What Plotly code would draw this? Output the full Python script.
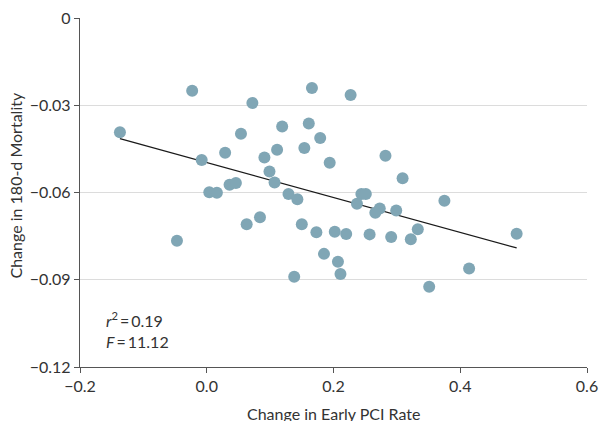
import numpy as np
import plotly.graph_objects as go

# Change in Early PCI Rate (x) and Change in 180-d Mortality (y)
pci_change = [-0.137, -0.023, 0.072, -0.008, 0.029, 0.054, 0.119, 0.111, 0.091, 0.099,
              0.107, 0.004, 0.016, 0.036, 0.046, 0.129, 0.143, 0.154, 0.166, 0.227,
              0.161, 0.179, 0.194, 0.282, 0.309, 0.244, 0.251, 0.237, 0.273, 0.266,
              0.299, 0.375, 0.150, 0.173, 0.202, 0.220, 0.257, 0.291, 0.322, 0.333,
              0.489, 0.185, 0.207, 0.211, 0.138, 0.351, 0.414, -0.047, 0.063, 0.084]
mort_change = [-0.0393, -0.0250, -0.0292, -0.0488, -0.0463, -0.0398, -0.0373, -0.0453, -0.0480, -0.0528,
               -0.0566, -0.0599, -0.0601, -0.0573, -0.0567, -0.0605, -0.0623, -0.0447, -0.0241, -0.0265,
               -0.0363, -0.0413, -0.0498, -0.0474, -0.0551, -0.0605, -0.0605, -0.0639, -0.0655, -0.0670,
               -0.0662, -0.0628, -0.0709, -0.0737, -0.0735, -0.0743, -0.0744, -0.0753, -0.0761, -0.0726,
               -0.0742, -0.0811, -0.0838, -0.0880, -0.0890, -0.0924, -0.0861, -0.0766, -0.0709, -0.0685]

x_ticks = [-0.2, 0.0, 0.2, 0.4, 0.6]
x_ticklabels = ["\u22120.2", "0.0", "0.2", "0.4", "0.6"]
y_ticks = [0, -0.03, -0.06, -0.09, -0.12]
y_ticklabels = ["0", "\u22120.03", "\u22120.06", "\u22120.09", "\u22120.12"]

x_title = "Change in Early PCI Rate"
y_title = "Change in 180-d Mortality"
r2_text = "0.19"
f_text = "11.12"

x_arr = np.array(pci_change)
y_arr = np.array(mort_change)
slope, intercept = np.polyfit(x_arr, y_arr, 1)
fit_x = [x_arr.min(), x_arr.max()]
fit_y = [intercept + slope * v for v in fit_x]

FONT = "Lato, Liberation Sans, Arial, sans-serif"
TEXT = "#333333"
AXIS = "#555555"
FS = 16

fig = go.Figure()
fig.add_trace(go.Scatter(x=fit_x, y=fit_y, mode="lines",
                         line=dict(color="#1a1a1a", width=1.3), hoverinfo="skip", showlegend=False))
fig.add_trace(go.Scatter(x=pci_change, y=mort_change, mode="markers",
                         marker=dict(size=12, color="#80A6B5", line=dict(width=0)),
                         showlegend=False))

fig.add_annotation(x=0, y=0, xref="paper", yref="paper",
                   xanchor="left", yanchor="bottom", xshift=24, yshift=14,
                   text=f"<i>r</i><sup>2</sup>\u2009=\u2009{r2_text}<br><i>F</i>\u2009=\u2009{f_text}",
                   showarrow=False, align="left",
                   font=dict(family=FONT, size=FS, color=TEXT))

# axis titles as annotations for exact placement
fig.add_annotation(x=0, y=0.52, xref="paper", yref="paper",
                   xanchor="center", yanchor="middle", xshift=-64,
                   text=y_title, textangle=-90, showarrow=False,
                   font=dict(family=FONT, size=FS, color=TEXT))
fig.add_annotation(x=0.5, y=0, xref="paper", yref="paper",
                   xanchor="center", yanchor="top", yshift=-35,
                   text=x_title, showarrow=False,
                   font=dict(family=FONT, size=FS, color=TEXT))

fig.update_layout(
    width=599, height=421,
    margin=dict(l=80, r=12, t=18, b=54),
    paper_bgcolor="white", plot_bgcolor="white",
    font=dict(family=FONT, size=FS, color=TEXT),
    xaxis=dict(range=[-0.2, 0.6], tickvals=x_ticks, ticktext=x_ticklabels,
               automargin=False, ticklabeloverflow="allow",
               showgrid=False, zeroline=False, showline=True, linecolor=AXIS, linewidth=1.3,
               ticks="outside", ticklen=5, tickcolor=AXIS, tickwidth=1.3,
               tickfont=dict(family=FONT, size=FS, color=TEXT)),
    yaxis=dict(range=[-0.12, 0.0], tickvals=y_ticks, ticktext=y_ticklabels,
               automargin=False, ticklabeloverflow="allow",
               showgrid=True, gridcolor="#dcdcdc", gridwidth=1, zeroline=False,
               showline=True, linecolor=AXIS, linewidth=1.3,
               ticks="outside", ticklen=5, tickcolor=AXIS, tickwidth=1.3,
               tickfont=dict(family=FONT, size=FS, color=TEXT)),
)

# remove the default page margin so the 599x421 figure fills the window exactly
fig.write_html("out.html", config={"displayModeBar": False},
               post_script="document.body.style.margin='0';document.body.style.overflow='hidden';")
